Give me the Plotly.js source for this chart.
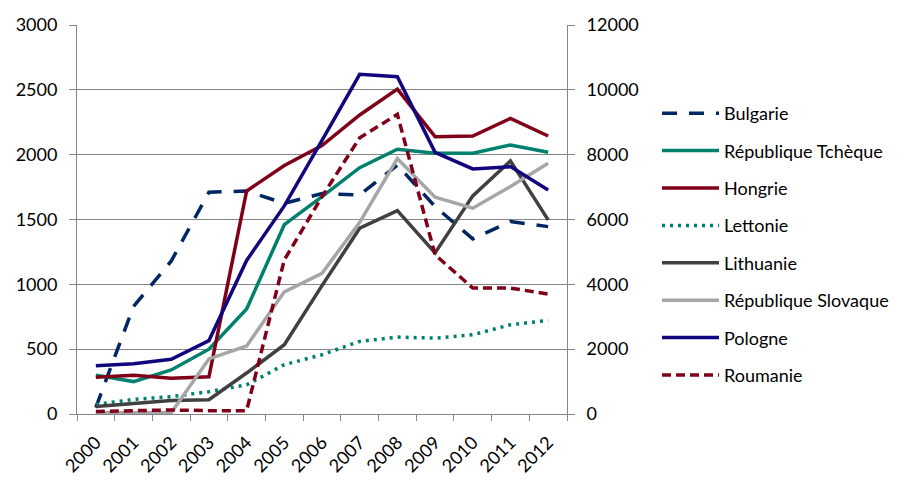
<!DOCTYPE html>
<html>
<head>
<meta charset="utf-8">
<script src="https://cdn.plot.ly/plotly-3.0.1.min.js"></script>
<style>html,body{margin:0;padding:0;background:#fff;}#chart{width:923px;height:491px;}</style>
</head>
<body>
<div id="chart"></div>
<script>
var years = ["2000","2001","2002","2003","2004","2005","2006","2007","2008","2009","2010","2011","2012"];

var bulgarie   = [50, 830, 1180, 1710, 1720, 1625, 1700, 1690, 1920, 1600, 1350, 1485, 1445];
var tcheque    = [300, 250, 340, 500, 810, 1460, 1676, 1900, 2042, 2011, 2011, 2075, 2018];
var hongrie    = [283, 298, 275, 287, 1720, 1916, 2070, 2306, 2506, 2139, 2144, 2280, 2144];
var lettonie   = [75, 112, 134, 172, 225, 380, 457, 560, 593, 585, 611, 688, 722];
var lithuanie  = [58, 82, 105, 110, 316, 534, 990, 1433, 1569, 1242, 1682, 1952, 1497];
var slovaque   = [10, 10, 10, 425, 525, 942, 1085, 1478, 1970, 1672, 1587, 1754, 1934];
var pologne    = [372, 388, 422, 566, 1184, 1605, 2110, 2620, 2601, 2018, 1890, 1908, 1728];
var roumanie   = [20, 26, 31, 26, 26, 1189, 1676, 2130, 2311, 1228, 971, 971, 925];

var names = ["Bulgarie", "République Tchèque", "Hongrie", "Lettonie", "Lithuanie", "République Slovaque", "Pologne", "Roumanie"];
var series = [bulgarie, tcheque, hongrie, lettonie, lithuanie, slovaque, pologne, roumanie];
var colors = ["#002664", "#00806E", "#800018", "#00806E", "#404040", "#A6A6A6", "#12067F", "#800018"];
var dashes = ["15px,12px", "solid", "solid", "3px,5px", "solid", "solid", "solid", "9px,5px"];

var traces = series.map(function(vals, i) {
  return {
    x: years, y: vals, name: names[i], type: "scatter", mode: "lines",
    legendgroup: "g" + i,
    line: {color: colors[i], width: 3.5, dash: dashes[i]},
    hoverinfo: "skip"
  };
});
// empty trace so the secondary (right) axis is drawn
traces.push({x: [], y: [], yaxis: "y2", type: "scatter", mode: "lines", showlegend: false, hoverinfo: "skip"});

var gray = "#868686";
var font = {family: "Lato, 'Open Sans', sans-serif", size: 18, color: "#000"};

var layout = {
  width: 923, height: 491,
  margin: {l: 77, r: 356, t: 25, b: 77},
  paper_bgcolor: "#fff", plot_bgcolor: "#fff",
  font: font,
  showlegend: true,
  hovermode: false,
  xaxis: {
    type: "category", range: [-0.5, 12.5], tickangle: -45, tickson: "boundaries",
    ticks: "outside", ticklen: 6, tickcolor: gray,
    showline: true, linecolor: gray, linewidth: 1,
    showgrid: false, zeroline: false, fixedrange: true,
    ticklabelstandoff: 10,
    tickfont: font
  },
  yaxis: {
    range: [0, 3000], dtick: 500, tick0: 0,
    ticks: "outside", ticklen: 7, tickcolor: gray,
    showline: true, linecolor: gray, linewidth: 1,
    showgrid: true, gridcolor: gray, gridwidth: 1,
    zeroline: false, fixedrange: true, ticklabelstandoff: 8,
    tickfont: font
  },
  yaxis2: {
    overlaying: "y", side: "right", anchor: "x",
    range: [0, 12000], dtick: 2000, tick0: 0, exponentformat: "none", tickformat: "d",
    ticks: "outside", ticklen: 7, tickcolor: gray,
    showline: true, linecolor: gray, linewidth: 1,
    showgrid: false, zeroline: false, fixedrange: true, ticklabelstandoff: 8,
    tickfont: font
  },
  legend: {
    xref: "container", yref: "container",
    x: 657/923, y: 1 - 95/491, xanchor: "left", yanchor: "top",
    traceorder: "grouped", tracegroupgap: 11,
    itemwidth: 57, maxheight: 420,
    font: font, bgcolor: "rgba(0,0,0,0)"
  }
};

Plotly.newPlot("chart", traces, layout, {displayModeBar: false, staticPlot: true});
</script>
</body>
</html>
